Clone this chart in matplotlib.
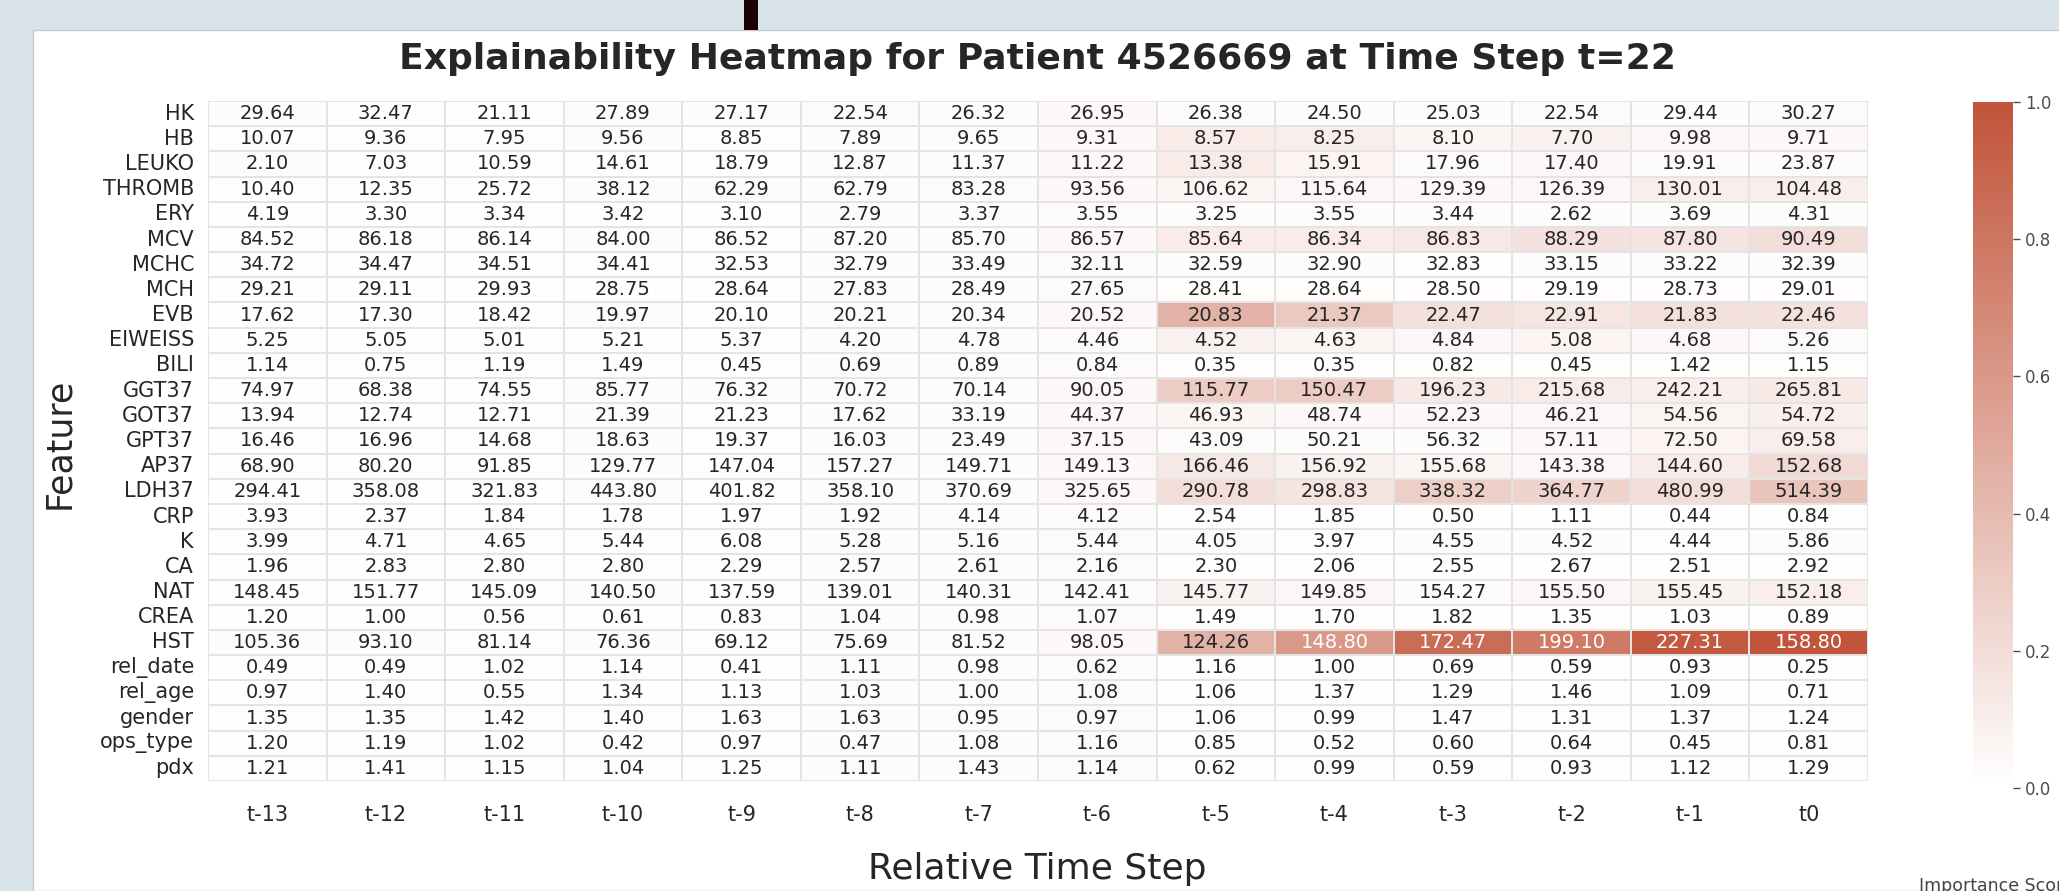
import numpy as np
import pandas as pd
import seaborn as sns
import matplotlib.pyplot as plt
from matplotlib.colors import LinearSegmentedColormap
from matplotlib.patches import Rectangle

features = ['HK', 'HB', 'LEUKO', 'THROMB', 'ERY', 'MCV', 'MCHC', 'MCH', 'EVB', 'EIWEISS',
            'BILI', 'GGT37', 'GOT37', 'GPT37', 'AP37', 'LDH37', 'CRP', 'K', 'CA', 'NAT',
            'CREA', 'HST', 'rel_date', 'rel_age', 'gender', 'ops_type', 'pdx']
steps = ['t-13', 't-12', 't-11', 't-10', 't-9', 't-8', 't-7', 't-6',
         't-5', 't-4', 't-3', 't-2', 't-1', 't0']

# raw feature values (cell annotations)
raw_values = [
    [29.64, 32.47, 21.11, 27.89, 27.17, 22.54, 26.32, 26.95, 26.38, 24.50, 25.03, 22.54, 29.44, 30.27],
    [10.07, 9.36, 7.95, 9.56, 8.85, 7.89, 9.65, 9.31, 8.57, 8.25, 8.10, 7.70, 9.98, 9.71],
    [2.10, 7.03, 10.59, 14.61, 18.79, 12.87, 11.37, 11.22, 13.38, 15.91, 17.96, 17.40, 19.91, 23.87],
    [10.40, 12.35, 25.72, 38.12, 62.29, 62.79, 83.28, 93.56, 106.62, 115.64, 129.39, 126.39, 130.01, 104.48],
    [4.19, 3.30, 3.34, 3.42, 3.10, 2.79, 3.37, 3.55, 3.25, 3.55, 3.44, 2.62, 3.69, 4.31],
    [84.52, 86.18, 86.14, 84.00, 86.52, 87.20, 85.70, 86.57, 85.64, 86.34, 86.83, 88.29, 87.80, 90.49],
    [34.72, 34.47, 34.51, 34.41, 32.53, 32.79, 33.49, 32.11, 32.59, 32.90, 32.83, 33.15, 33.22, 32.39],
    [29.21, 29.11, 29.93, 28.75, 28.64, 27.83, 28.49, 27.65, 28.41, 28.64, 28.50, 29.19, 28.73, 29.01],
    [17.62, 17.30, 18.42, 19.97, 20.10, 20.21, 20.34, 20.52, 20.83, 21.37, 22.47, 22.91, 21.83, 22.46],
    [5.25, 5.05, 5.01, 5.21, 5.37, 4.20, 4.78, 4.46, 4.52, 4.63, 4.84, 5.08, 4.68, 5.26],
    [1.14, 0.75, 1.19, 1.49, 0.45, 0.69, 0.89, 0.84, 0.35, 0.35, 0.82, 0.45, 1.42, 1.15],
    [74.97, 68.38, 74.55, 85.77, 76.32, 70.72, 70.14, 90.05, 115.77, 150.47, 196.23, 215.68, 242.21, 265.81],
    [13.94, 12.74, 12.71, 21.39, 21.23, 17.62, 33.19, 44.37, 46.93, 48.74, 52.23, 46.21, 54.56, 54.72],
    [16.46, 16.96, 14.68, 18.63, 19.37, 16.03, 23.49, 37.15, 43.09, 50.21, 56.32, 57.11, 72.50, 69.58],
    [68.90, 80.20, 91.85, 129.77, 147.04, 157.27, 149.71, 149.13, 166.46, 156.92, 155.68, 143.38, 144.60, 152.68],
    [294.41, 358.08, 321.83, 443.80, 401.82, 358.10, 370.69, 325.65, 290.78, 298.83, 338.32, 364.77, 480.99, 514.39],
    [3.93, 2.37, 1.84, 1.78, 1.97, 1.92, 4.14, 4.12, 2.54, 1.85, 0.50, 1.11, 0.44, 0.84],
    [3.99, 4.71, 4.65, 5.44, 6.08, 5.28, 5.16, 5.44, 4.05, 3.97, 4.55, 4.52, 4.44, 5.86],
    [1.96, 2.83, 2.80, 2.80, 2.29, 2.57, 2.61, 2.16, 2.30, 2.06, 2.55, 2.67, 2.51, 2.92],
    [148.45, 151.77, 145.09, 140.50, 137.59, 139.01, 140.31, 142.41, 145.77, 149.85, 154.27, 155.50, 155.45, 152.18],
    [1.20, 1.00, 0.56, 0.61, 0.83, 1.04, 0.98, 1.07, 1.49, 1.70, 1.82, 1.35, 1.03, 0.89],
    [105.36, 93.10, 81.14, 76.36, 69.12, 75.69, 81.52, 98.05, 124.26, 148.80, 172.47, 199.10, 227.31, 158.80],
    [0.49, 0.49, 1.02, 1.14, 0.41, 1.11, 0.98, 0.62, 1.16, 1.00, 0.69, 0.59, 0.93, 0.25],
    [0.97, 1.40, 0.55, 1.34, 1.13, 1.03, 1.00, 1.08, 1.06, 1.37, 1.29, 1.46, 1.09, 0.71],
    [1.35, 1.35, 1.42, 1.40, 1.63, 1.63, 0.95, 0.97, 1.06, 0.99, 1.47, 1.31, 1.37, 1.24],
    [1.20, 1.19, 1.02, 0.42, 0.97, 0.47, 1.08, 1.16, 0.85, 0.52, 0.60, 0.64, 0.45, 0.81],
    [1.21, 1.41, 1.15, 1.04, 1.25, 1.11, 1.43, 1.14, 0.62, 0.99, 0.59, 0.93, 1.12, 1.29],
]

# importance scores (cell colours)
importance = [
    [0.02, 0.01, 0.01, 0.02, 0.02, 0.03, 0.02, 0.04, 0.02, 0.02, 0.02, 0.03, 0.02, 0.03],
    [0.01, 0.01, 0.01, 0.02, 0.01, 0.02, 0.02, 0.04, 0.12, 0.10, 0.06, 0.08, 0.05, 0.04],
    [0.02, 0.01, 0.01, 0.01, 0.01, 0.02, 0.02, 0.04, 0.12, 0.07, 0.03, 0.04, 0.02, 0.02],
    [0.01, 0.01, 0.01, 0.02, 0.02, 0.02, 0.03, 0.04, 0.06, 0.05, 0.04, 0.05, 0.10, 0.10],
    [0.01, 0.01, 0.01, 0.01, 0.01, 0.02, 0.02, 0.03, 0.02, 0.02, 0.02, 0.02, 0.02, 0.02],
    [0.01, 0.01, 0.01, 0.02, 0.01, 0.02, 0.02, 0.04, 0.12, 0.12, 0.14, 0.17, 0.16, 0.20],
    [0.01, 0.01, 0.01, 0.01, 0.01, 0.02, 0.02, 0.03, 0.02, 0.02, 0.01, 0.02, 0.02, 0.02],
    [0.01, 0.01, 0.01, 0.01, 0.01, 0.02, 0.02, 0.03, 0.01, 0.01, 0.01, 0.01, 0.01, 0.01],
    [0.01, 0.01, 0.01, 0.02, 0.01, 0.02, 0.02, 0.04, 0.45, 0.32, 0.18, 0.15, 0.18, 0.17],
    [0.01, 0.01, 0.01, 0.01, 0.01, 0.02, 0.02, 0.03, 0.08, 0.06, 0.05, 0.07, 0.05, 0.03],
    [0.01, 0.01, 0.01, 0.01, 0.01, 0.02, 0.02, 0.03, 0.01, 0.01, 0.01, 0.01, 0.01, 0.01],
    [0.01, 0.01, 0.01, 0.02, 0.02, 0.02, 0.02, 0.04, 0.30, 0.30, 0.13, 0.12, 0.10, 0.13],
    [0.01, 0.01, 0.01, 0.02, 0.01, 0.02, 0.02, 0.04, 0.06, 0.04, 0.04, 0.05, 0.07, 0.09],
    [0.01, 0.01, 0.01, 0.02, 0.01, 0.02, 0.02, 0.04, 0.03, 0.02, 0.02, 0.04, 0.07, 0.10],
    [0.01, 0.01, 0.01, 0.02, 0.01, 0.02, 0.02, 0.04, 0.14, 0.08, 0.06, 0.05, 0.12, 0.22],
    [0.01, 0.01, 0.01, 0.02, 0.01, 0.02, 0.02, 0.04, 0.20, 0.16, 0.28, 0.25, 0.20, 0.34],
    [0.01, 0.01, 0.01, 0.01, 0.01, 0.02, 0.02, 0.03, 0.01, 0.01, 0.01, 0.01, 0.01, 0.01],
    [0.01, 0.01, 0.01, 0.01, 0.01, 0.02, 0.02, 0.03, 0.02, 0.01, 0.02, 0.02, 0.01, 0.02],
    [0.01, 0.01, 0.01, 0.01, 0.01, 0.02, 0.02, 0.03, 0.01, 0.01, 0.01, 0.01, 0.01, 0.01],
    [0.01, 0.01, 0.01, 0.02, 0.01, 0.02, 0.02, 0.03, 0.08, 0.05, 0.02, 0.05, 0.08, 0.10],
    [0.01, 0.01, 0.01, 0.01, 0.01, 0.02, 0.02, 0.03, 0.01, 0.01, 0.01, 0.01, 0.01, 0.01],
    [0.02, 0.02, 0.01, 0.02, 0.01, 0.02, 0.02, 0.04, 0.45, 0.60, 0.85, 0.78, 0.97, 1.00],
    [0.01, 0.01, 0.01, 0.01, 0.01, 0.02, 0.02, 0.03, 0.01, 0.01, 0.01, 0.01, 0.01, 0.01],
    [0.01, 0.01, 0.01, 0.01, 0.01, 0.02, 0.02, 0.03, 0.01, 0.01, 0.01, 0.01, 0.01, 0.01],
    [0.01, 0.01, 0.01, 0.01, 0.01, 0.02, 0.02, 0.03, 0.01, 0.01, 0.01, 0.01, 0.01, 0.01],
    [0.01, 0.01, 0.01, 0.01, 0.01, 0.02, 0.02, 0.03, 0.01, 0.01, 0.01, 0.01, 0.01, 0.01],
    [0.01, 0.01, 0.01, 0.01, 0.01, 0.02, 0.02, 0.03, 0.01, 0.01, 0.01, 0.01, 0.01, 0.01],
]

imp_df = pd.DataFrame(importance, index=features, columns=steps)
annot = np.array(raw_values)

W, H = 2059, 891
fig = plt.figure(figsize=(W / 100, H / 100), dpi=100, facecolor='#d8e2e9')

# screenshot frame: white panel and dark bar at top (drawn behind the axes)
fig.patches.append(Rectangle((33 / W, 0), 1, (H - 30) / H, transform=fig.transFigure,
                             facecolor='white', edgecolor='#c3cbd1', linewidth=1, zorder=-5))
fig.patches.append(Rectangle((744 / W, (H - 30) / H), 14 / W, 30 / H, transform=fig.transFigure,
                             facecolor='#1c0202', edgecolor='none', zorder=-5))

ax = fig.add_axes([208 / W, (H - 781) / H, 1660 / W, 680 / H])
cax = fig.add_axes([1973 / W, (H - 788) / H, 40 / W, 686 / H])

cmap = LinearSegmentedColormap.from_list('imp', ['#ffffff', '#c1543a'])

sns.heatmap(imp_df, annot=annot, fmt='.2f', cmap=cmap, vmin=0, vmax=1,
            linewidths=1.2, linecolor='#e4e4e4', ax=ax, cbar_ax=cax,
            annot_kws={'fontsize': 14})

ax.tick_params(axis='both', length=0, labelsize=15, colors='#262626')
ax.tick_params(axis='x', pad=17, labelrotation=0)
ax.tick_params(axis='y', pad=10, labelrotation=0)
ax.set_xlabel('')
ax.set_ylabel('')

cax.tick_params(labelsize=12, colors='#4d4d4d', length=5, width=1)
cax.set_yticks([0.0, 0.2, 0.4, 0.6, 0.8, 1.0])
for sp in cax.spines.values():
    sp.set_visible(False)

fig.text(1037 / W, 1 - 59 / H, 'Explainability Heatmap for Patient 4526669 at Time Step t=22',
         ha='center', va='center', fontsize=26, fontweight='bold', color='#262626')
fig.text(1037 / W, 1 - 869 / H, 'Relative Time Step', ha='center', va='center',
         fontsize=26, color='#262626')
fig.text(59 / W, 1 - 443 / H, 'Feature', ha='center', va='center', rotation=90,
         fontsize=25, color='#262626')
fig.text(1996 / W, 1 - 886 / H, 'Importance Score', ha='center', va='center',
         fontsize=12.5, color='#444444')

fig.savefig('out.png', dpi=100, facecolor=fig.get_facecolor())
